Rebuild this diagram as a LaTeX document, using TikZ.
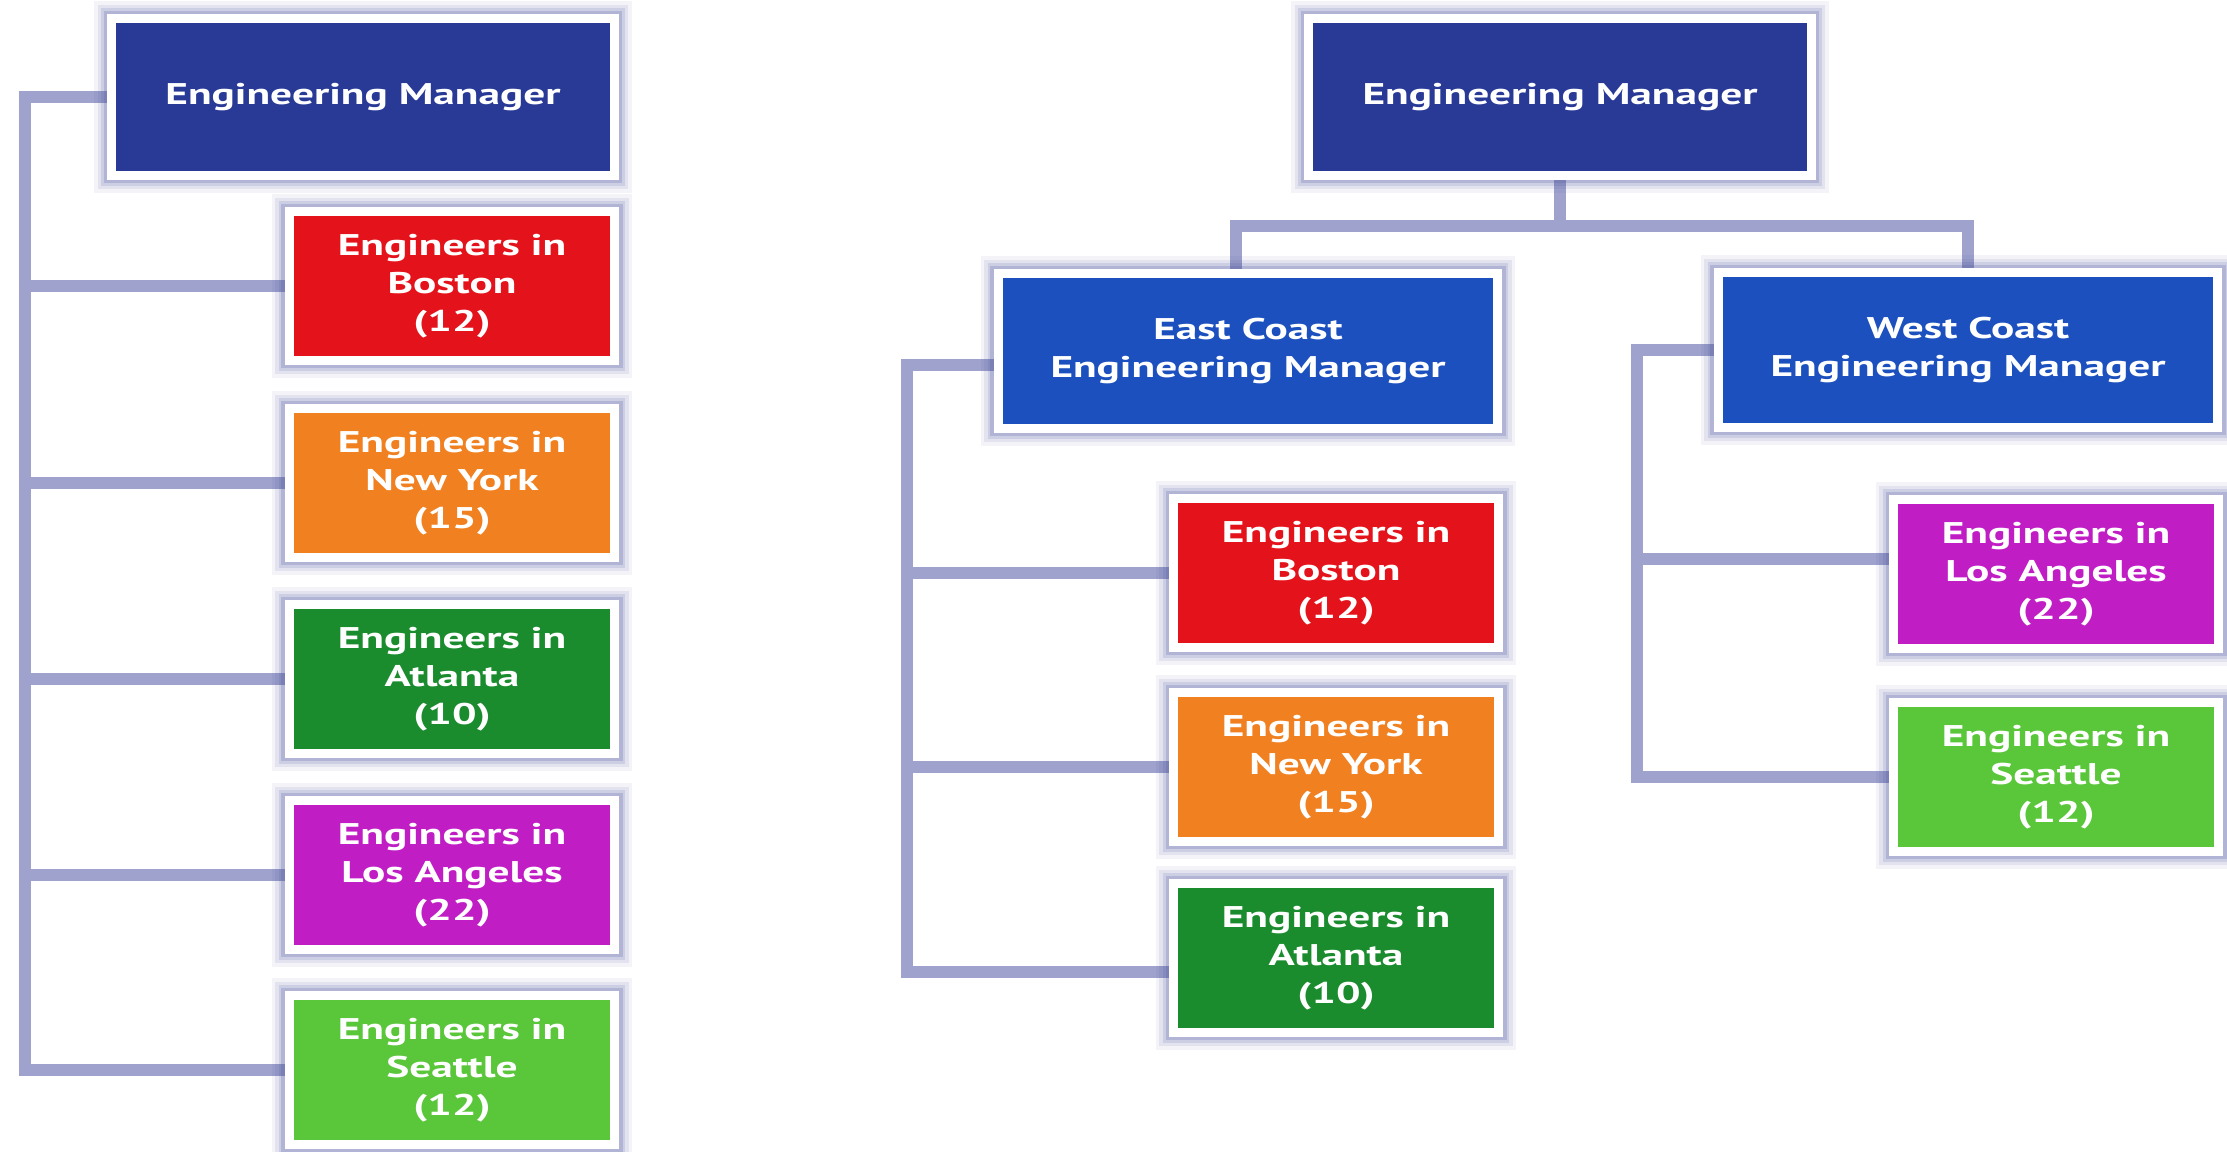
\documentclass[tikz,border=0pt]{standalone}
\usepackage{fontspec}
\newfontfamily\boxfont{PT Sans}[FakeStretch=1.45]
\usepackage{tikz}
\definecolor{mgrblue}{RGB}{40,58,150}
\definecolor{coastblue}{RGB}{28,80,190}
\definecolor{bosred}{RGB}{228,18,26}
\definecolor{nyorange}{RGB}{240,128,32}
\definecolor{atlgreen}{RGB}{26,140,46}
\definecolor{lapurple}{RGB}{192,30,196}
\definecolor{seagreen}{RGB}{90,198,58}
\definecolor{linkgray}{RGB}{158,162,204}
\definecolor{glow}{RGB}{80,88,160}
\pgfdeclarelayer{background}
\pgfsetlayers{background,main}

\begin{document}
\begin{tikzpicture}[x=0.01cm,y=-0.01cm,
        box/.style={rectangle,draw=white,line width=2.56pt,text=white,align=center,inner sep=0pt,
            font=\boxfont\bfseries\fontsize{8.5}{10.8}\selectfont,
            preaction={draw=glow,line width=10pt,draw opacity=0.07},
            preaction={draw=glow,line width=8pt,draw opacity=0.1},
            preaction={draw=glow,line width=6pt,draw opacity=0.15},
            preaction={draw=glow,line width=4.5pt,draw opacity=0.22}},
        mgr/.style={box,fill=mgrblue,minimum width=5.02cm,minimum height=1.56cm},
        coast/.style={box,fill=coastblue,minimum width=4.99cm,minimum height=1.54cm},
        team/.style={box,minimum width=3.25cm,minimum height=1.48cm},
        link/.style={draw=linkgray,line width=3.4pt}]
    \useasboundingbox (0,0) rectangle (2227,1151);

    % left: one manager, five teams
    \coordinate (ltrunk) at (25,0);
    \node[mgr] (lm) at (363,97) {Engineering Manager};
    \foreach \y/\city/\num/\col [count=\i] in {286/Boston/12/bosred,483/New York/15/nyorange,
            679/Atlanta/10/atlgreen,875/Los Angeles/22/lapurple,1070/Seattle/12/seagreen} {
        \node[team,fill=\col] (l\i) at (452,\y) {Engineers in\\\city\\(\num)};
    }

    % right: manager, two coast managers
    \node[mgr] (rm) at (1560,97) {Engineering Manager};
    \node[coast] (ec) at (1248,351) {East Coast\\Engineering Manager};
    \node[coast] (wc) at (1968,350) {West Coast\\Engineering Manager};
    \coordinate (etrunk) at (907,0);
    \coordinate (wtrunk) at (1637,0);
    \foreach \y/\city/\num/\col [count=\i] in {573/Boston/12/bosred,767/New York/15/nyorange,
            958/Atlanta/10/atlgreen} {
        \node[team,fill=\col] (e\i) at (1336,\y) {Engineers in\\\city\\(\num)};
    }
    \foreach \y/\city/\num/\col [count=\i] in {574/Los Angeles/22/lapurple,777/Seattle/12/seagreen} {
        \node[team,fill=\col] (w\i) at (2056,\y) {Engineers in\\\city\\(\num)};
    }

    \begin{pgfonlayer}{background}
        \draw[link] (lm.west) -- (lm.west -| ltrunk) |- (l5.west);
        \foreach \i in {1,...,4}
            \draw[link] (l\i.west) -- (l\i.west -| ltrunk);
        \draw[link] (rm.south) -- ++(0,46) coordinate (split);
        \draw[link] (split) -| ([xshift=-0.12cm]ec.north);
        \draw[link] (split) -| (wc.north);
        \draw[link] ([yshift=-0.14cm]ec.west) -- ([yshift=-0.14cm]ec.west -| etrunk) |- ([yshift=-0.14cm]e3.west);
        \foreach \i in {1,2}
            \draw[link] (e\i.west) -- (e\i.west -| etrunk);
        \draw[link] (wc.west) -- (wc.west -| wtrunk) |- (w2.west);
        \draw[link] ([yshift=0.15cm]w1.west) -- ([yshift=0.15cm]w1.west -| wtrunk);
    \end{pgfonlayer}
\end{tikzpicture}
\end{document}
